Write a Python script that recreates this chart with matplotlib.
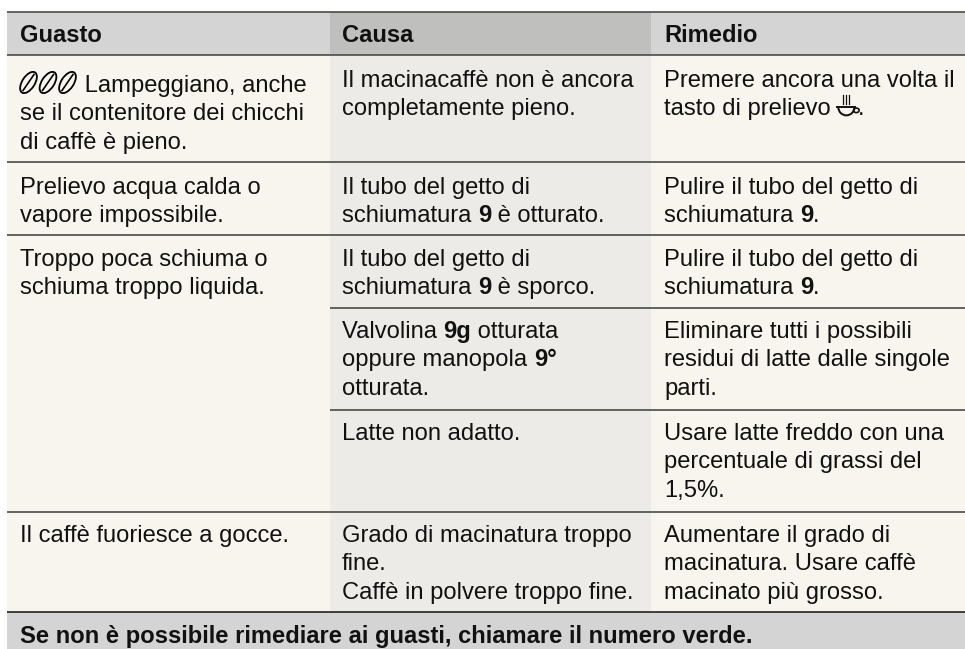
import matplotlib as mpl
mpl.use("Agg")
import matplotlib.pyplot as plt
from matplotlib.patches import Ellipse, Rectangle, Wedge

plt.rcParams['font.family'] = ['Liberation Sans', 'DejaVu Sans']

W, H = 965, 649
FS = 17.1
STEP = 28.35

# table text, ** marks bold runs, {beans} and {cup} are the little icons
headers = ["Guasto", "Causa", "Rimedio"]
guasto = [
    (92, ["{beans} Lampeggiano, anche", "se il contenitore dei chicchi", "di caffè è pieno."]),
    (194, ["Prelievo acqua calda o", "vapore impossibile."]),
    (266, ["Troppo poca schiuma o", "schiuma troppo liquida."]),
    (542, ["Il caffè fuoriesce a gocce."]),
]
causa = [
    (87, ["Il macinacaffè non è ancora", "completamente pieno."]),
    (194, ["Il tubo del getto di", "schiumatura **9** è otturato."]),
    (266, ["Il tubo del getto di", "schiumatura **9** è sporco."]),
    (338, ["Valvolina **9g** otturata", "oppure manopola **9°**", "otturata."]),
    (440, ["Latte non adatto."]),
    (542, ["Grado di macinatura troppo", "fine.", "Caffè in polvere troppo fine."]),
]
rimedio = [
    (87, ["Premere ancora una volta il", "tasto di prelievo {cup}."]),
    (194, ["Pulire il tubo del getto di", "schiumatura **9**."]),
    (266, ["Pulire il tubo del getto di", "schiumatura **9**."]),
    (338, ["Eliminare tutti i possibili", "residui di latte dalle singole", "parti."]),
    (440, ["Usare latte freddo con una", "percentuale di grassi del", "1,5%."]),
    (542, ["Aumentare il grado di", "macinatura. Usare caffè", "macinato più grosso."]),
]
footer = "Se non è possibile rimediare ai guasti, chiamare il numero verde."

col_edges = [7, 329.5, 651, 965]
col_text = [20, 342, 664]
header_top, header_bottom, body_bottom = 12, 55, 612
full_lines = [162, 234.5, 511.5]
part_lines = [308, 409.5]  # only across Causa and Rimedio
ink = "#111111"
rule = "#4b4b46"

fig = plt.figure(figsize=(W / 100, H / 100), dpi=100)
ax = fig.add_axes([0, 0, 1, 1])
ax.set_xlim(0, W)
ax.set_ylim(H, 0)
ax.axis("off")

# backgrounds, the middle column is darker
left, mid, mid2, right = col_edges
ax.add_patch(Rectangle((left, header_bottom), right - left, body_bottom - header_bottom, fc="#f7f5ee", ec="none"))
ax.add_patch(Rectangle((mid, header_bottom), mid2 - mid, body_bottom - header_bottom, fc="#ecebe7", ec="none"))
ax.add_patch(Rectangle((left, header_top), right - left, header_bottom - header_top, fc="#d4d4d4", ec="none"))
ax.add_patch(Rectangle((mid, header_top), mid2 - mid, header_bottom - header_top, fc="#bfbfbe", ec="none"))
ax.add_patch(Rectangle((left, body_bottom), right - left, H - body_bottom, fc="#d4d4d4", ec="none"))

# rules
for y in [header_top, header_bottom] + full_lines:
    ax.plot([left, right], [y, y], color=rule, lw=1.2, solid_capstyle="butt")
for y in part_lines:
    ax.plot([mid, right], [y, y], color=rule, lw=1.2, solid_capstyle="butt")
ax.plot([left, right], [body_bottom, body_bottom], color="#222222", lw=1.2, solid_capstyle="butt")

renderer = fig.canvas.get_renderer()


def run_width(s, weight):
    t = ax.text(0, 0, s + "|", fontsize=FS, fontweight=weight)
    g = ax.text(0, 0, "|", fontsize=FS, fontweight=weight)
    # trailing spaces are measured with a guard character
    w = t.get_window_extent(renderer).width - g.get_window_extent(renderer).width
    t.remove()
    g.remove()
    return w


def draw_beans(x, y):
    for i in range(3):
        cx = x + 8.5 + i * 19.5
        ax.add_patch(Ellipse((cx, y - 9.5), 12.5, 24, angle=33, fc="none", ec="#000000", lw=1.3))
        ax.plot([cx - 5.5, cx + 5.5], [y - 1.5, y - 17.5], color="#000000", lw=1.2)
    return 58.5


def draw_cup(x, y):
    ax.add_patch(Wedge((x + 9, y - 8), 9, 0, 180, width=2, fc=ink, ec="none"))
    ax.plot([x, x + 18], [y - 8, y - 8], color=ink, lw=1.4)
    ax.add_patch(Ellipse((x + 19, y - 5), 5.5, 4.5, fc="none", ec=ink, lw=1.2))
    for i in range(3):
        ax.plot([x + 6 + i * 3, x + 6 + i * 3], [y - 20, y - 11], color=ink, lw=0.9)
    return 21


def draw_line(x, y, line):
    parts = line.split("**")
    for i, part in enumerate(parts):
        weight = "bold" if i % 2 else "normal"
        for icon, fn in (("{beans}", draw_beans), ("{cup}", draw_cup)):
            if icon in part:
                before, part = part.split(icon)
                if before:
                    ax.text(x, y, before, fontsize=FS, color=ink, fontweight=weight, va="baseline")
                    x += run_width(before, weight)
                x += fn(x, y)
        if part:
            ax.text(x, y, part, fontsize=FS, color=ink, fontweight=weight, va="baseline")
            x += run_width(part, weight)


for name, x in zip(headers, col_text):
    ax.text(x, 42.5, name, fontsize=FS, fontweight="bold", color=ink, va="baseline")

for cells, x in zip((guasto, causa, rimedio), col_text):
    for base, lines in cells:
        for k, line in enumerate(lines):
            draw_line(x, base + k * STEP, line)

ax.text(20, 643, footer, fontsize=FS, fontweight="bold", color=ink, va="baseline")

fig.savefig("out.png", dpi=100)
